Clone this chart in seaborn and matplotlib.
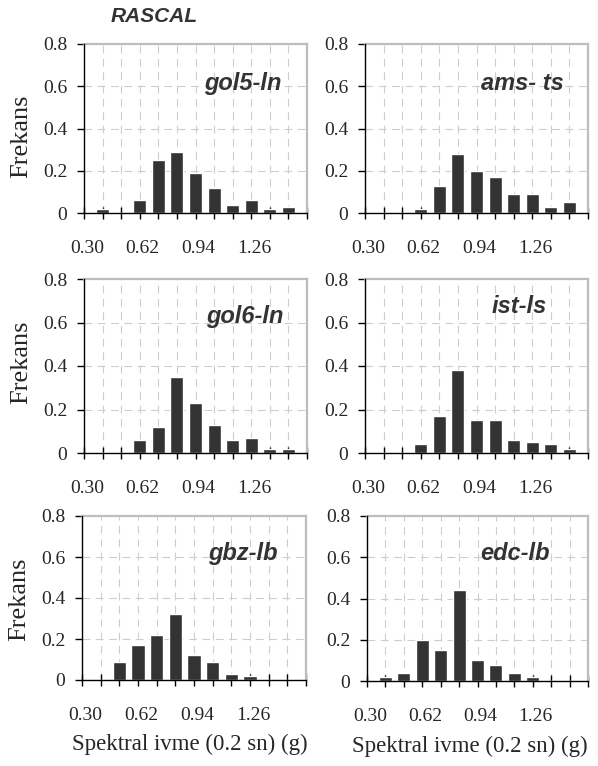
import numpy as np
import pandas as pd
import matplotlib
matplotlib.use("Agg")
import matplotlib.pyplot as plt
import matplotlib.transforms as mtransforms
import seaborn as sns

# --------------------------
# Data (bin index 1..11, frequency per station)
# --------------------------
bins = [1, 2, 3, 4, 5, 6, 7, 8, 9, 10, 11]
tick_labels = ["0.30", "0.62", "0.94", "1.26"]
tick_label_pos = [0, 3, 6, 9]

gol5_ln = [0.02, 0.00, 0.06, 0.25, 0.29, 0.19, 0.12, 0.04, 0.06, 0.02, 0.03]
ams_ts = [0.00, 0.00, 0.02, 0.13, 0.28, 0.20, 0.17, 0.09, 0.09, 0.03, 0.05]
gol6_ln = [0.00, 0.00, 0.06, 0.12, 0.35, 0.23, 0.13, 0.06, 0.07, 0.02, 0.02]
ist_ls = [0.00, 0.00, 0.04, 0.17, 0.38, 0.15, 0.15, 0.06, 0.05, 0.04, 0.02]
gbz_lb = [0.00, 0.09, 0.17, 0.22, 0.32, 0.12, 0.09, 0.03, 0.02, 0.00, 0.00]
edc_lb = [0.02, 0.04, 0.20, 0.15, 0.44, 0.10, 0.08, 0.04, 0.02, 0.00, 0.00]

panels = [
    ("gol5-ln", gol5_ln),
    ("ams- ts", ams_ts),
    ("gol6-ln", gol6_ln),
    ("ist-ls", ist_ls),
    ("gbz-lb", gbz_lb),
    ("edc-lb", edc_lb),
]

# --------------------------
# Style
# --------------------------
sns.set_style("white")
plt.rcParams["font.family"] = ["Liberation Serif", "DejaVu Serif"]

fig = plt.figure(figsize=(5.98, 7.66), dpi=100)
W, H = 598.0, 766.0

# axes boxes in pixels: left, top, right, bottom
boxes = [
    (84, 44, 307, 213), (365, 44, 588, 213),
    (84, 279, 307, 453), (365, 279, 588, 453),
    (82, 516, 306, 680), (367, 516, 588, 681),
]
label_xy = [(0.71, 0.765), (0.705, 0.765), (0.72, 0.785),
            (0.69, 0.84), (0.72, 0.77), (0.67, 0.775)]
ylab_y = [0.455, None, 0.52, None, 0.49, None]

grid_color = "#cdcdcd"
bar_color = "#333333"
shift = mtransforms.ScaledTranslation(3 / 100, 0, fig.dpi_scale_trans)

for i, ((name, freq), (l, t, r, b)) in enumerate(zip(panels, boxes)):
    ax = fig.add_axes([l / W, 1 - b / H, (r - l) / W, (b - t) / H])
    df = pd.DataFrame({"bin": bins, "freq": freq})
    sns.barplot(data=df, x="bin", y="freq", native_scale=True, width=0.7,
                color=bar_color, saturation=1, errorbar=None, ax=ax, zorder=3)

    ax.set_xlim(0, 12)
    ax.set_ylim(0, 0.8)
    ax.set_axisbelow(True)

    # dashed grid
    for k in bins:
        ax.axvline(k, color=grid_color, lw=0.8, ls=(0, (7, 5)), zorder=0)
    for v in [0.2, 0.4, 0.6]:
        ax.axhline(v, color=grid_color, lw=0.8, ls=(0, (7, 5)), zorder=0)

    # spines
    for s in ["top", "right"]:
        ax.spines[s].set_color("#bdbdbd")
        ax.spines[s].set_linewidth(1.6)
    for s in ["left", "bottom"]:
        ax.spines[s].set_color("black")
        ax.spines[s].set_linewidth(1.0)
        ax.spines[s].set_zorder(4)

    # ticks
    ax.set_xticks(range(13))
    lbls = [""] * 13
    for p, txt in zip(tick_label_pos, tick_labels):
        lbls[p] = txt
    ax.set_xticklabels(lbls)
    ax.set_yticks([0, 0.2, 0.4, 0.6, 0.8])
    ax.set_yticklabels(["0", "0.2", "0.4", "0.6", "0.8"])
    ax.tick_params(axis="x", bottom=True, direction="inout", length=9, width=1,
                   color="black", pad=15, labelsize=14)
    ax.tick_params(axis="y", left=True, direction="out", length=5, width=1,
                   color="black", pad=7, labelsize=14)
    for tk in ax.xaxis.get_major_ticks():
        tk.tick1line.set_zorder(5)
    for lab in ax.get_xticklabels():
        lab.set_transform(lab.get_transform() + shift)

    ax.set_xlabel("")
    ax.set_ylabel("")
    if i % 2 == 0:
        ax.set_ylabel("Frekans", fontsize=19)
        ax.yaxis.set_label_coords(-0.232, ylab_y[i])
    if i >= 4:
        ax.set_xlabel("Spektral ivme (0.2 sn) (g)", fontsize=16.5)
        ax.xaxis.set_label_coords(0.48 if i == 4 else 0.466, -0.33)

    ax.text(label_xy[i][0], label_xy[i][1], name, transform=ax.transAxes,
            ha="center", va="center", fontsize=17, fontweight="bold",
            fontstyle="italic", color="#333333",
            family=["Liberation Sans", "DejaVu Sans"])

fig.text(154 / W, 1 - 17 / H, "RASCAL", ha="center", va="center",
         fontsize=15, fontweight="bold", fontstyle="italic", color="#333333",
         family=["Liberation Sans", "DejaVu Sans"])

fig.savefig("out.png", dpi=100)
